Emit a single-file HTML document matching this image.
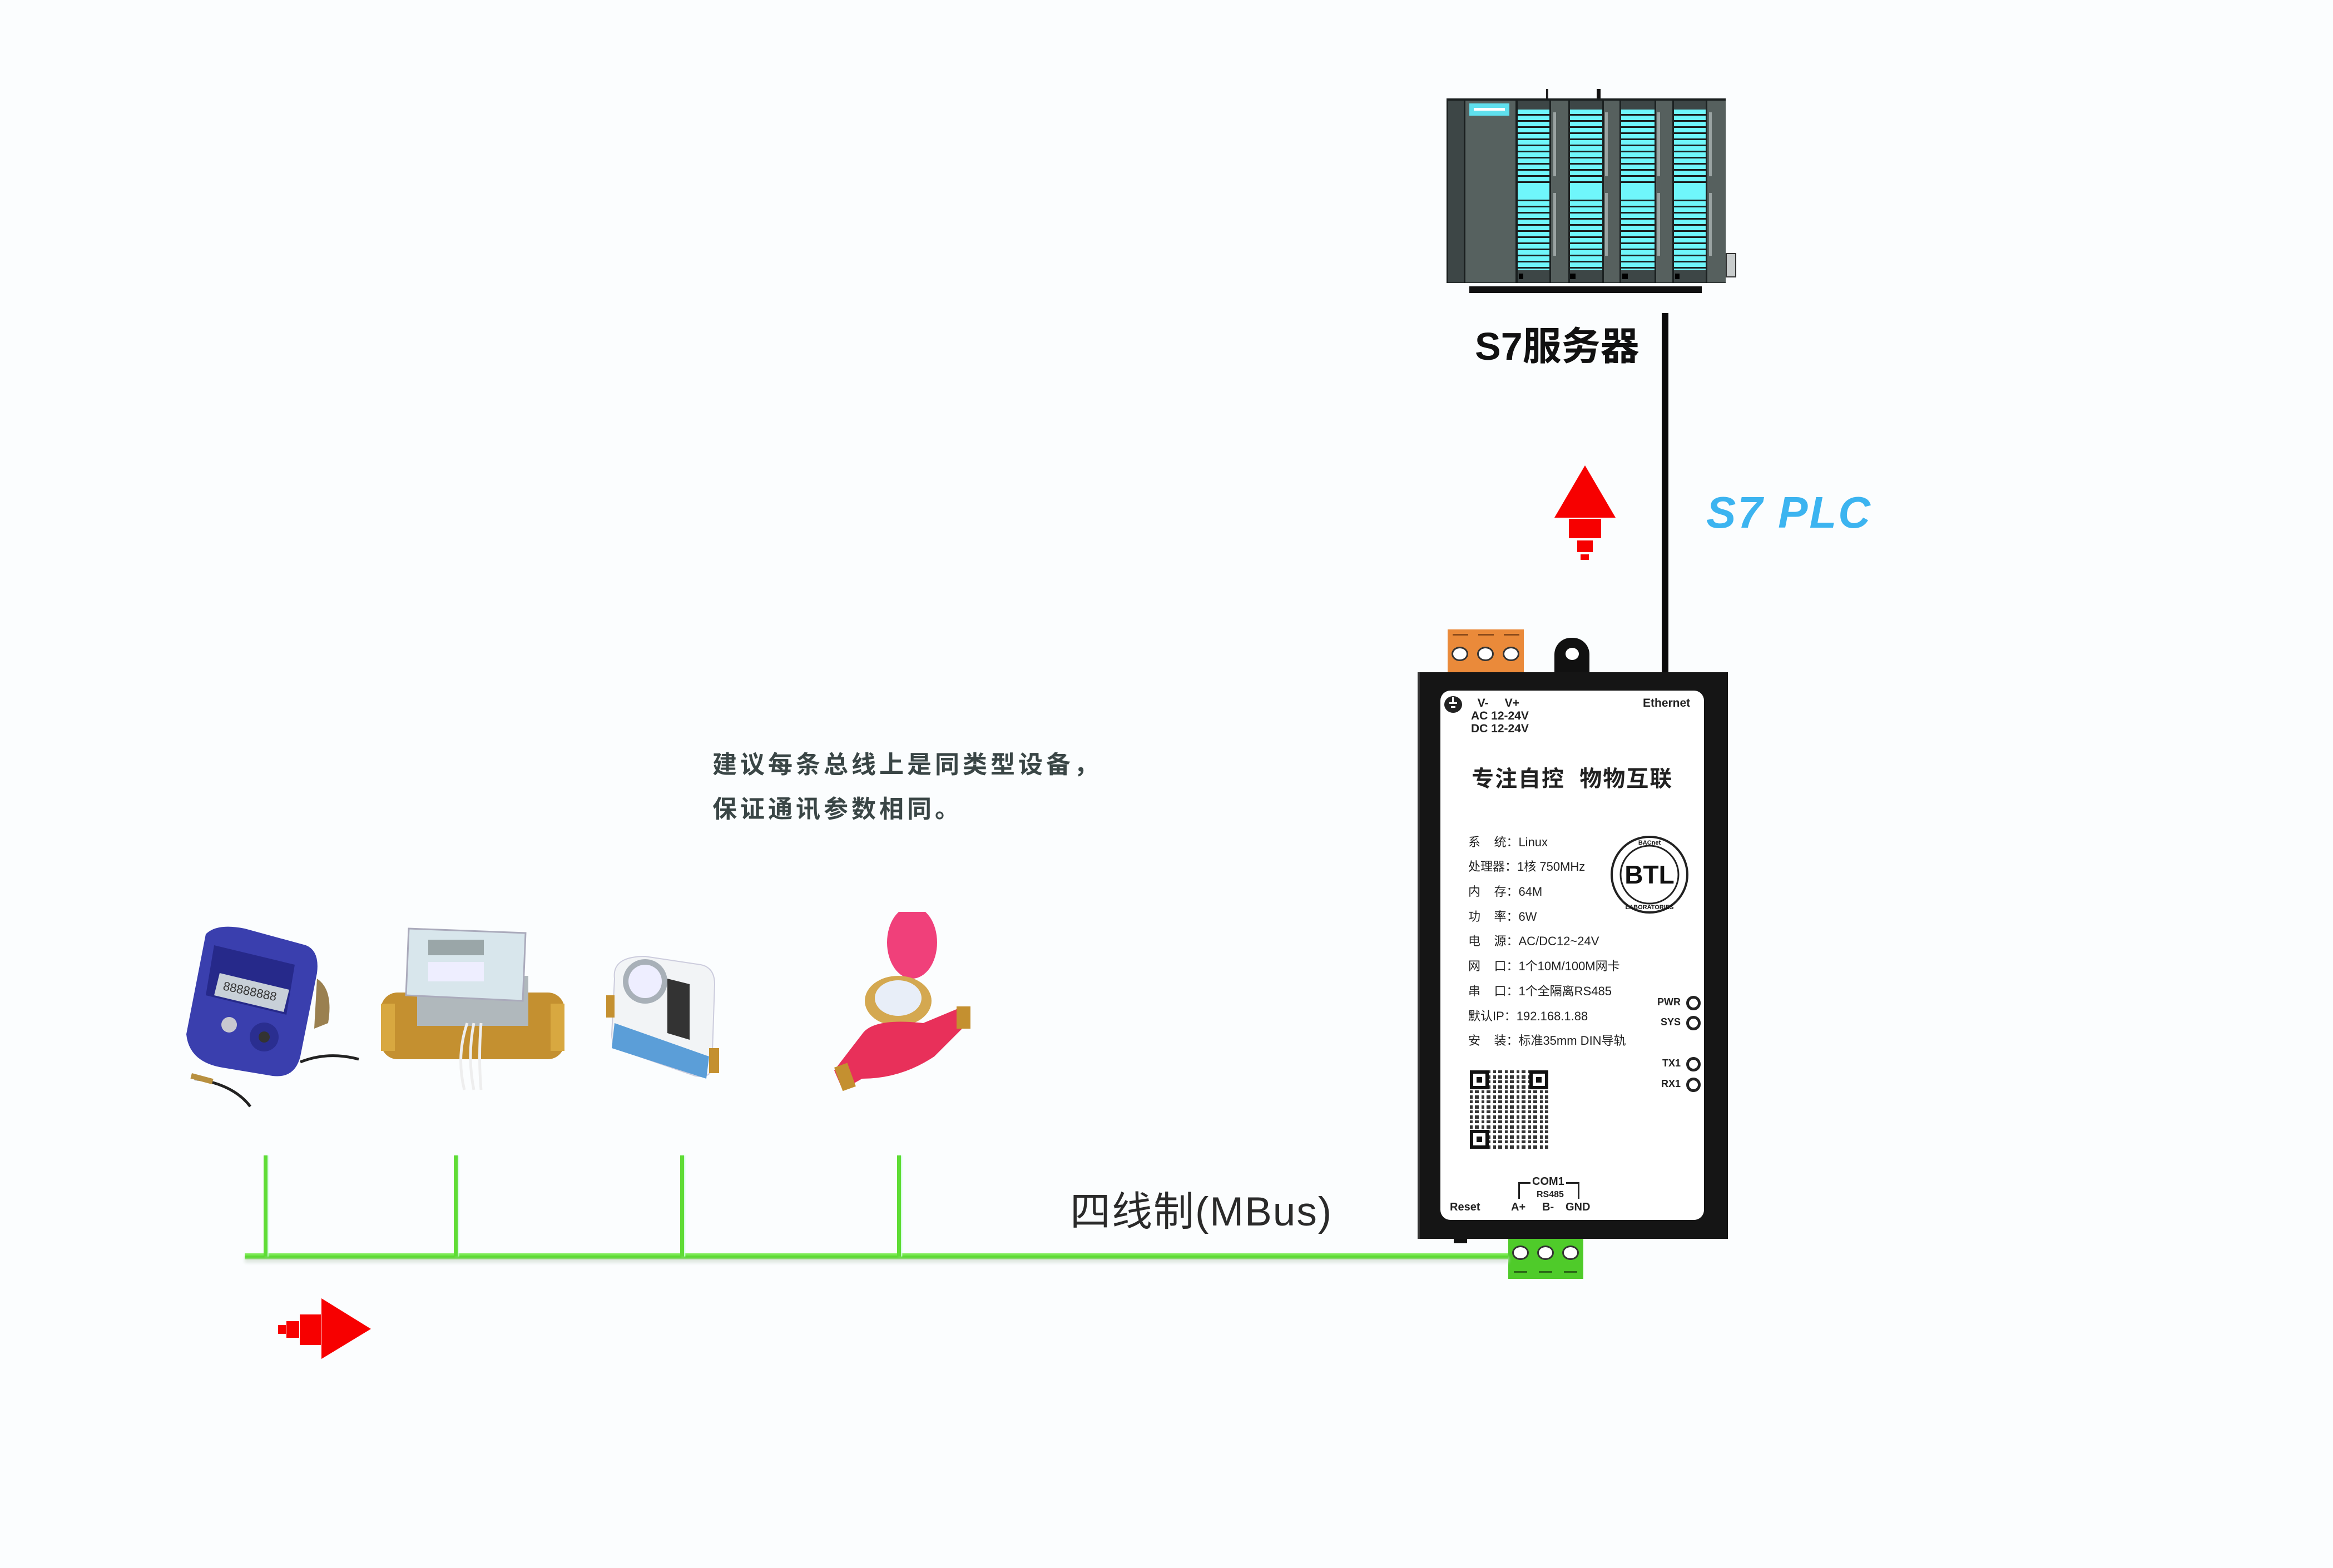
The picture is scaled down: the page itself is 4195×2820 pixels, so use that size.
<!DOCTYPE html>
<html><head><meta charset="utf-8">
<style>
*{margin:0;padding:0;box-sizing:border-box}
body{width:4195px;height:2820px;background:#fbfdfe;position:relative;overflow:hidden;font-family:"Liberation Sans","Noto Sans CJK SC",sans-serif}
.a{position:absolute}
.cy{position:absolute;top:197px;height:289px;background:repeating-linear-gradient(to bottom,#6ff6fb 0,#6ff6fb 8px,#1a1f1f 8px,#1a1f1f 11px)}
.gap{position:absolute;top:181px;height:327px;background:#56605e;border-left:3px solid #1c2222;border-right:3px solid #1c2222}
.mt{position:absolute;top:181px;height:16px;background:#3d4646}
.mb{position:absolute;top:486px;height:22px;background:#3d4646}
.spec{position:absolute;left:2640px;font-size:22px;color:#222;white-space:pre}
.led{position:absolute;width:26px;height:26px;border:5px solid #222;border-radius:50%;left:3032px}
.ll{position:absolute;font-size:18px;font-weight:bold;color:#222;text-align:right;width:60px;left:2962px}
.scr{position:absolute;width:30px;height:30px;border-radius:50%;background:#fff;border:3px solid #333}
.drop{position:absolute;width:7px;top:2078px;height:182px;background:#5fdc35;box-shadow:2px 0 2px #cfd}
</style></head><body>

<!-- PLC -->
<div class="a" style="left:2780px;top:160px;width:4px;height:18px;background:#222"></div>
<div class="a" style="left:2871px;top:160px;width:7px;height:18px;background:#111"></div>
<div class="a" style="left:2601px;top:177px;width:502px;height:332px;background:#1a1f1f"></div>
<div class="a" style="left:2604px;top:181px;width:28px;height:327px;background:#3d4646"></div>
<div class="a" style="left:2635px;top:181px;width:90px;height:327px;background:#56615f"></div>
<div class="a" style="left:2642px;top:186px;width:72px;height:22px;background:#5fe0ee"><div class="a" style="left:8px;top:8px;width:56px;height:5px;background:#fff"></div></div>
<div class="mt" style="left:2729px;width:57px"></div><div class="cy" style="left:2729px;width:57px"></div><div class="mb" style="left:2729px;width:57px"></div>
<div class="mt" style="left:2823px;width:58px"></div><div class="cy" style="left:2823px;width:58px"></div><div class="mb" style="left:2823px;width:58px"></div>
<div class="mt" style="left:2915px;width:60px"></div><div class="cy" style="left:2915px;width:60px"></div><div class="mb" style="left:2915px;width:60px"></div>
<div class="mt" style="left:3010px;width:57px"></div><div class="cy" style="left:3010px;width:57px"></div><div class="mb" style="left:3010px;width:57px"></div>
<div class="a" style="left:2729px;top:333px;width:57px;height:19px;background:#6ff6fb"></div>
<div class="a" style="left:2823px;top:333px;width:58px;height:19px;background:#6ff6fb"></div>
<div class="a" style="left:2915px;top:333px;width:60px;height:19px;background:#6ff6fb"></div>
<div class="a" style="left:3010px;top:333px;width:57px;height:19px;background:#6ff6fb"></div>
<div class="gap" style="left:2786px;width:37px"></div>
<div class="gap" style="left:2881px;width:34px"></div>
<div class="gap" style="left:2975px;width:35px"></div>
<div class="gap" style="left:3067px;width:36px;border-right:none"></div>
<div class="a" style="left:2793px;top:202px;width:5px;height:115px;background:#9aa3a2"></div><div class="a" style="left:2793px;top:347px;width:5px;height:113px;background:#9aa3a2"></div>
<div class="a" style="left:2886px;top:202px;width:5px;height:115px;background:#9aa3a2"></div><div class="a" style="left:2886px;top:347px;width:5px;height:113px;background:#9aa3a2"></div>
<div class="a" style="left:2980px;top:202px;width:5px;height:115px;background:#9aa3a2"></div><div class="a" style="left:2980px;top:347px;width:5px;height:113px;background:#9aa3a2"></div>
<div class="a" style="left:3073px;top:202px;width:5px;height:115px;background:#9aa3a2"></div><div class="a" style="left:3073px;top:347px;width:5px;height:113px;background:#9aa3a2"></div>
<div class="a" style="left:2731px;top:492px;width:8px;height:10px;background:#000"></div>
<div class="a" style="left:2823px;top:492px;width:10px;height:10px;background:#000"></div>
<div class="a" style="left:2917px;top:492px;width:10px;height:10px;background:#000"></div>
<div class="a" style="left:3012px;top:492px;width:8px;height:10px;background:#000"></div>
<div class="a" style="left:2642px;top:515px;width:418px;height:12px;background:#111"></div>
<div class="a" style="left:3103px;top:455px;width:19px;height:44px;background:#c8cccc;border:2px solid #333"></div>

<div class="a" style="left:2652px;top:578px;font-size:70px;font-weight:bold;color:#111;white-space:nowrap;line-height:90px">S7服务器</div>

<div class="a" style="left:2988px;top:563px;width:12px;height:648px;background:#0b0b0b"></div>

<svg class="a" style="left:2790px;top:830px" width="120" height="180">
<polygon points="60,7 115,101 5,101" fill="#f70000"/>
<rect x="31" y="103" width="58" height="35" fill="#f70000"/>
<rect x="46" y="142" width="28" height="21" fill="#f70000"/>
<rect x="52" y="167" width="15" height="10" fill="#f70000"/>
</svg>
<div class="a" style="left:3068px;top:872px;font-size:80px;font-weight:bold;font-style:italic;color:#3cb4f0;white-space:nowrap;letter-spacing:3px;line-height:100px">S7 PLC</div>

<!-- gateway -->
<div class="a" style="left:2603px;top:1132px;width:137px;height:78px;background:#ea8a3a"></div>
<div class="a" style="left:2612px;top:1140px;width:28px;height:3px;background:#8a4a1a"></div>
<div class="a" style="left:2658px;top:1140px;width:28px;height:3px;background:#8a4a1a"></div>
<div class="a" style="left:2704px;top:1140px;width:28px;height:3px;background:#8a4a1a"></div>
<div class="scr" style="left:2610px;top:1163px;width:30px;height:26px"></div>
<div class="scr" style="left:2656px;top:1163px;width:30px;height:26px"></div>
<div class="scr" style="left:2702px;top:1163px;width:30px;height:26px"></div>
<div class="a" style="left:2795px;top:1147px;width:63px;height:64px;background:#111;border-radius:30px 30px 0 0"></div>
<div class="a" style="left:2815px;top:1165px;width:24px;height:22px;background:#fff;border-radius:50%"></div>

<div class="a" style="left:2549px;top:1209px;width:558px;height:1019px;background:#151515;border-left:4px solid #333"></div>
<div class="a" style="left:2590px;top:1242px;width:474px;height:952px;background:#fff;border-radius:18px"></div>
<div class="a" style="left:2614px;top:2228px;width:24px;height:8px;background:#111"></div>

<div class="a" style="left:2597px;top:1252px;width:32px;height:30px;border-radius:50%;background:#222"></div>
<div class="a" style="left:2606px;top:1263px;width:14px;height:3px;background:#fff"></div>
<div class="a" style="left:2609px;top:1270px;width:8px;height:3px;background:#fff"></div>
<div class="a" style="left:2611px;top:1254px;width:3px;height:10px;background:#fff"></div>
<div class="a" style="left:2645px;top:1253px;font-size:21px;font-weight:bold;color:#222;white-space:pre;line-height:23px">  V-     V+<br>AC 12-24V<br>DC 12-24V</div>
<div class="a" style="left:2954px;top:1253px;font-size:21px;font-weight:bold;color:#222">Ethernet</div>
<div class="a" style="left:2646px;top:1376px;font-size:40px;font-weight:bold;color:#222;white-space:pre;line-height:50px;letter-spacing:2px">专注自控  物物互联</div>

<div class="spec" style="top:1497px">系    统：Linux</div>
<div class="spec" style="top:1541px">处理器：1核 750MHz</div>
<div class="spec" style="top:1586px">内    存：64M</div>
<div class="spec" style="top:1631px">功    率：6W</div>
<div class="spec" style="top:1675px">电    源：AC/DC12~24V</div>
<div class="spec" style="top:1720px">网    口：1个10M/100M网卡</div>
<div class="spec" style="top:1765px">串    口：1个全隔离RS485</div>
<div class="spec" style="top:1810px">默认IP：192.168.1.88</div>
<div class="spec" style="top:1854px">安    装：标准35mm DIN导轨</div>

<svg class="a" style="left:2894px;top:1501px" width="144" height="144">
<circle cx="72" cy="72" r="68" fill="#fff" stroke="#222" stroke-width="4"/>
<circle cx="72" cy="72" r="52" fill="none" stroke="#222" stroke-width="3"/>
<text x="72" y="88" text-anchor="middle" font-family="Liberation Sans" font-weight="bold" font-size="46" fill="#111">BTL</text>
<text x="72" y="18" text-anchor="middle" font-family="Liberation Sans" font-weight="bold" font-size="11" fill="#111">BACnet</text>
<text x="72" y="134" text-anchor="middle" font-family="Liberation Sans" font-weight="bold" font-size="11" fill="#111">LABORATORIES</text>
</svg>

<div class="ll" style="top:1792px">PWR</div><div class="led" style="top:1791px"></div>
<div class="ll" style="top:1828px">SYS</div><div class="led" style="top:1827px"></div>
<div class="ll" style="top:1902px">TX1</div><div class="led" style="top:1901px"></div>
<div class="ll" style="top:1939px">RX1</div><div class="led" style="top:1938px"></div>

<div class="a" style="left:2643px;top:1925px;width:141px;height:141px;background:repeating-linear-gradient(90deg,#111 0 5px,#fff 5px 9px,#111 9px 16px,#fff 16px 21px),#fff;opacity:.85"></div>
<div class="a" style="left:2643px;top:1925px;width:141px;height:141px;background:repeating-linear-gradient(0deg,transparent 0 6px,#fff 6px 10px,transparent 10px 15px,#fff 15px 18px)"></div>
<div class="a" style="left:2643px;top:1925px;width:34px;height:34px;border:6px solid #111;background:#fff"><div class="a" style="left:6px;top:6px;width:10px;height:10px;background:#111"></div></div>
<div class="a" style="left:2750px;top:1925px;width:34px;height:34px;border:6px solid #111;background:#fff"><div class="a" style="left:6px;top:6px;width:10px;height:10px;background:#111"></div></div>
<div class="a" style="left:2643px;top:2032px;width:34px;height:34px;border:6px solid #111;background:#fff"><div class="a" style="left:6px;top:6px;width:10px;height:10px;background:#111"></div></div>

<div class="a" style="left:2730px;top:2126px;width:110px;height:30px;border:3px solid #222;border-bottom:none"></div>
<div class="a" style="left:2752px;top:2114px;background:#fff;padding:0 3px;font-size:20px;font-weight:bold;color:#222">COM1</div>
<div class="a" style="left:2763px;top:2140px;font-size:16px;font-weight:bold;color:#222">RS485</div>
<div class="a" style="left:2607px;top:2160px;font-size:20px;font-weight:bold;color:#222">Reset</div>
<div class="a" style="left:2717px;top:2160px;font-size:20px;font-weight:bold;color:#222">A+</div>
<div class="a" style="left:2773px;top:2160px;font-size:20px;font-weight:bold;color:#222">B-</div>
<div class="a" style="left:2815px;top:2160px;font-size:20px;font-weight:bold;color:#222">GND</div>

<div class="a" style="left:2712px;top:2228px;width:135px;height:72px;background:#4fcb2a"></div>
<div class="scr" style="left:2719px;top:2240px;width:30px;height:26px"></div>
<div class="scr" style="left:2764px;top:2240px;width:30px;height:26px"></div>
<div class="scr" style="left:2809px;top:2240px;width:30px;height:26px"></div>
<div class="a" style="left:2722px;top:2286px;width:24px;height:3px;background:#2a6a15"></div>
<div class="a" style="left:2767px;top:2286px;width:24px;height:3px;background:#2a6a15"></div>
<div class="a" style="left:2812px;top:2286px;width:24px;height:3px;background:#2a6a15"></div>

<div class="a" style="left:440px;top:2254px;width:2272px;height:11px;background:linear-gradient(#8ef06a,#55d82a 60%,#9fd88a);box-shadow:0 6px 6px #dfe8e0"></div>
<div class="drop" style="left:474px"></div>
<div class="drop" style="left:816px"></div>
<div class="drop" style="left:1223px"></div>
<div class="drop" style="left:1613px"></div>
<div class="a" style="left:1924px;top:2130px;font-size:73px;color:#2a2a2a;white-space:nowrap;line-height:100px;letter-spacing:2px">四线制(MBus)</div>

<svg class="a" style="left:495px;top:2330px" width="180" height="120">
<polygon points="83,5 172,60 83,114" fill="#f70000"/>
<rect x="44" y="34" width="38" height="55" fill="#f70000"/>
<rect x="20" y="46" width="23" height="30" fill="#f70000"/>
<rect x="5" y="53" width="14" height="16" fill="#f70000"/>
</svg>

<div class="a" style="left:1281px;top:1336px;font-size:44px;font-weight:bold;color:#3a4646;letter-spacing:6px;line-height:80px;white-space:nowrap">建议每条总线上是同类型设备，<br>保证通讯参数相同。</div>

<svg class="a" style="left:300px;top:1640px" width="1500" height="400">
<path d="M70,40 Q90,20 140,30 L250,60 Q275,70 270,110 L240,260 Q230,300 190,295 L100,280 Q40,270 35,220 Z" fill="#3a3fae"/>
<path d="M85,60 L230,95 L215,185 L70,150 Z" fill="#26298a"/>
<path d="M95,110 L220,140 L210,180 L85,150 Z" fill="#c8d0d8"/>
<text x="100" y="140" font-family="Liberation Sans" font-size="22" fill="#333" transform="rotate(12 100 140)">88888888</text>
<circle cx="112" cy="203" r="14" fill="#c8c8d0"/>
<circle cx="175" cy="225" r="26" fill="#2a2e90"/><circle cx="175" cy="225" r="10" fill="#333"/>
<path d="M270,120 Q300,140 290,200 L265,210 Z" fill="#9a8050"/>
<path d="M240,270 Q290,250 345,265" stroke="#222" stroke-width="5" fill="none"/>
<path d="M50,300 Q120,310 150,350" stroke="#222" stroke-width="5" fill="none"/>
<rect x="45" y="290" width="40" height="10" fill="#b89040" transform="rotate(15 45 290)"/>
<rect x="385" y="145" width="330" height="120" rx="30" fill="#c49030"/>
<rect x="385" y="165" width="25" height="85" fill="#d8a840"/>
<rect x="690" y="165" width="25" height="85" fill="#d8a840"/>
<rect x="450" y="115" width="200" height="90" fill="#b0b8bc"/>
<path d="M435,30 L645,38 L640,160 L430,150 Z" fill="#d8e6ec" stroke="#aab" stroke-width="3"/>
<rect x="470" y="50" width="100" height="28" fill="#9aa6a8"/>
<rect x="470" y="90" width="100" height="35" fill="#eef"/>
<path d="M540,200 Q520,260 535,320 M552,200 Q540,260 552,320 M565,200 Q560,260 565,320" stroke="#eee" stroke-width="5" fill="none"/>
<path d="M805,120 Q800,80 860,80 L960,95 Q985,100 985,130 L980,280 Q978,300 950,295 L820,250 Q800,245 800,220 Z" fill="#f2f4f6" stroke="#ccd" stroke-width="2"/>
<path d="M805,200 L975,260 L970,300 L800,245 Z" fill="#5b9ed8"/>
<circle cx="860" cy="125" r="40" fill="#a8b0b8"/><circle cx="860" cy="125" r="30" fill="#eef"/>
<polygon points="900,120 940,130 940,230 900,218" fill="#333"/>
<rect x="790" y="150" width="15" height="40" fill="#c49030"/>
<rect x="975" y="245" width="18" height="45" fill="#c49030"/>
<ellipse cx="1340" cy="55" rx="45" ry="65" fill="#f0407a"/>
<ellipse cx="1315" cy="160" rx="60" ry="45" fill="#d4a850"/>
<ellipse cx="1315" cy="155" rx="42" ry="32" fill="#e8eef8"/>
<path d="M1250,220 Q1270,190 1360,200 L1420,175 L1440,200 L1380,260 Q1320,300 1250,300 L1215,320 L1200,285 Z" fill="#e8305a"/>
<rect x="1200" y="280" width="25" height="45" fill="#c49030" transform="rotate(-20 1200 280)"/>
<rect x="1420" y="170" width="25" height="40" fill="#c49030"/>
</svg>

</body></html>
